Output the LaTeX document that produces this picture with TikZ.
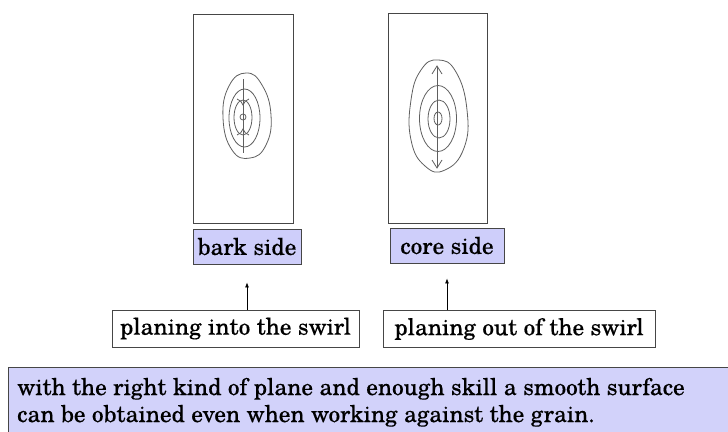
\documentclass[tikz,border=0pt]{standalone}
\usepackage{fontspec}
\setmainfont[FakeBold=0.3]{TeX Gyre Schola}
\usetikzlibrary{arrows.meta}
\definecolor{labelfill}{RGB}{206,206,250}
\definecolor{notefill}{RGB}{210,210,250}
\definecolor{pencil}{RGB}{95,95,95}
\definecolor{frame}{RGB}{70,70,70}
\begin{document}
\begin{tikzpicture}[x=1pt,y=-1pt,
  board/.style={draw=frame,line width=0.9pt},
  sketch/.style={draw=pencil,line width=0.8pt},
  labelbox/.style={draw=frame,fill=labelfill,line width=0.9pt,minimum width=108pt,minimum height=35pt,inner sep=0pt,font=\fontsize{23.2}{27}\selectfont},
  planebox/.style={draw=frame,fill=white,line width=0.9pt,minimum height=37pt,inner sep=0pt,font=\fontsize{23.2}{27}\selectfont},
  connector/.style={draw=black,line width=0.7pt,-{Latex[length=5pt,width=4pt]}},
  notebox/.style={draw=frame,fill=notefill,line width=0.9pt},
  notetext/.style={anchor=base west,inner sep=0pt,font=\fontsize{23.2}{27}\selectfont}]
\useasboundingbox (0,0) rectangle (728,431);
\clip (0,0) rectangle (728,431);

% the two boards
\draw[board] (193,14) rectangle (293,223);
\draw[board] (388,13) rectangle (487,223);

% bark side: growth rings with arrows pointing inward
\draw[sketch] plot[smooth cycle,tension=0.8] coordinates {(246,73) (262,85) (271,115) (266,145) (250,158) (232,150) (223,118) (229,86)};
\draw[sketch] (244.5,118) ellipse [x radius=15.5, y radius=29];
\draw[sketch] (243,117.5) ellipse [x radius=9, y radius=17.5];
\draw[sketch] (243,117) circle [radius=3];
\draw[sketch] (243,79) -- (243,153);
\draw[sketch] (237,99) .. controls (240,100) and (242,102) .. (243,105) .. controls (244,102) and (246,100) .. (249,99);
\draw[sketch] (237,135) .. controls (240,134) and (242,132) .. (243,129) .. controls (244,132) and (246,134) .. (249,135);

% core side: growth rings with arrows pointing outward
\draw[sketch] plot[smooth cycle,tension=0.8] coordinates {(438,60) (456,72) (467,110) (464,148) (445,170) (425,166) (411,140) (411,100) (421,70)};
\draw[sketch] (438,118.5) ellipse [x radius=18.5, y radius=33];
\draw[sketch] (439,119) ellipse [x radius=11, y radius=19];
\draw[sketch] (438,118.5) ellipse [x radius=4, y radius=6.5];
\draw[sketch] (437,67) -- (437,167);
\draw[sketch] (432,74) -- (437,66) -- (442,74);
\draw[sketch] (432,160) -- (437,168) -- (442,160);

% labels and their explanations
\node[labelbox] (bark) at (247,246.5) {bark side};
\node[labelbox,minimum width=114pt] (core) at (447,245.5) {core side};
\node[planebox,minimum width=247pt] (into) at (235.5,328.5) {planing into the swirl};
\node[planebox,minimum width=272pt] (outof) at (519,329) {planing out of the swirl};

\draw[connector,shorten >=18pt] (into.north -| bark.south) -- (bark.south);
\draw[connector,shorten >=15pt] (outof.north -| core.south) -- (core.south);

% closing remark
\node[notebox,anchor=north west,minimum width=740pt,minimum height=80pt] (note) at (8,367) {};
\node[notetext] (line1) at (17,395) {with the right kind of plane and enough skill a smooth surface};
\node[notetext] (line2) at (17,422) {can be obtained even when working against the grain.};
\end{tikzpicture}
\end{document}
